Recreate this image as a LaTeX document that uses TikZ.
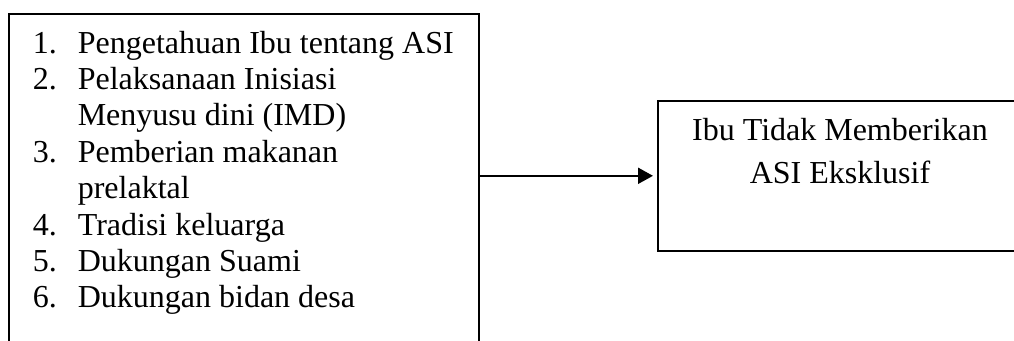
\documentclass[tikz,border=0pt]{standalone}
\usepackage{fontspec}
\setmainfont{Liberation Serif}
\usetikzlibrary{arrows.meta}
\begin{document}
\begin{tikzpicture}[x=1pt,y=-1pt, line width=1.6pt,
  boxstyle/.style={draw, rectangle, inner sep=0pt, anchor=north west},
  txt/.style={font=\fontsize{32}{36}\selectfont, inner sep=0pt, anchor=base west},
  ctxt/.style={font=\fontsize{32}{36}\selectfont, inner sep=0pt, anchor=base},
  arr/.style={line width=2pt, -{Triangle[length=15pt,width=16pt]}, shorten >=4pt}]
\useasboundingbox (0,0) rectangle (1014,340);
\node[boxstyle, minimum width=470pt, minimum height=367pt] (L) at (8,13) {};
\node[boxstyle, minimum width=420pt, minimum height=150pt] (R) at (657,100) {};
\node[txt] (t1) at (32,53)    {\makebox[45pt][l]{1.}Pengetahuan Ibu tentang ASI};
\node[txt] (t2) at (32,89.4)  {\makebox[45pt][l]{2.}Pelaksanaan Inisiasi};
\node[txt] (t3) at (32,125.8) {\makebox[45pt][l]{}Menyusu dini (IMD)};
\node[txt] (t4) at (32,162.2) {\makebox[45pt][l]{3.}Pemberian makanan};
\node[txt] (t5) at (32,198.6) {\makebox[45pt][l]{}prelaktal};
\node[txt] (t6) at (32,235)   {\makebox[45pt][l]{4.}Tradisi keluarga};
\node[txt] (t7) at (32,271.4) {\makebox[45pt][l]{5.}Dukungan Suami};
\node[txt] (t8) at (32,307.8) {\makebox[45pt][l]{6.}Dukungan bidan desa};
\node[ctxt] (r1) at (840,140) {Ibu Tidak Memberikan};
\node[ctxt] (r2) at (840,183) {ASI Eksklusif};
\draw[arr] (L.east |- R.west) -- (R.west);
\end{tikzpicture}
\end{document}
